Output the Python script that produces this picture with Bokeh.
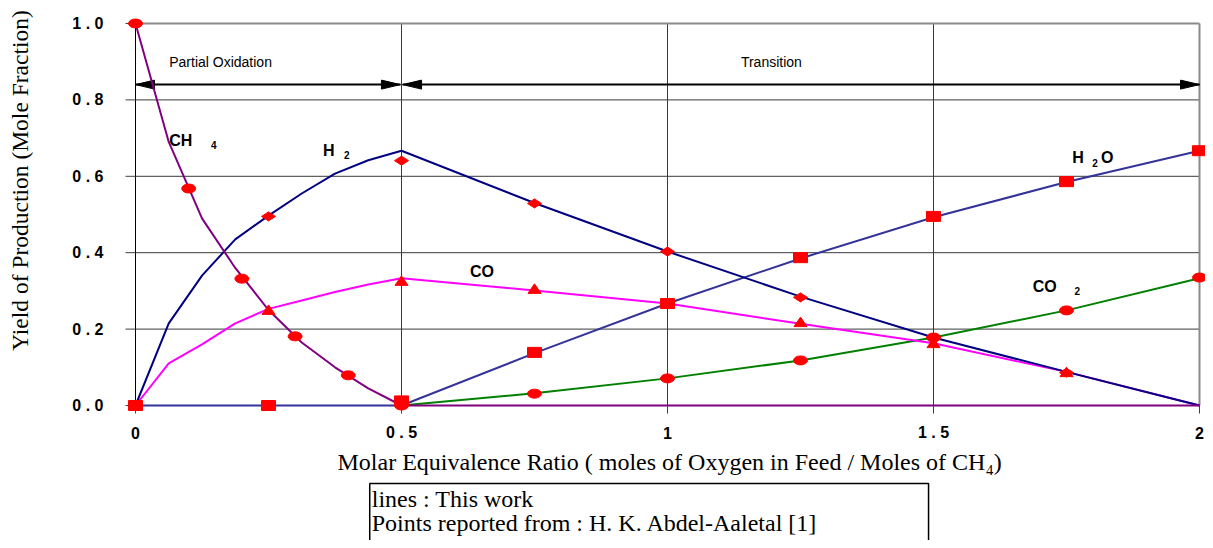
import numpy as np
from bokeh.plotting import figure
from bokeh.models import Range1d
from bokeh.embed import file_html
from bokeh.resources import INLINE
from bokeh.core.properties import value

# ---------------- data ----------------
# model lines ("This work")
LX_PO = [0, 0.0625, 0.125, 0.1875, 0.25, 0.3125, 0.375, 0.4375, 0.5]
LX_TR = [0.75, 1.0, 1.25, 1.5, 1.75, 2.0]

CH4_LINE_X = LX_PO + [2.0]
CH4_LINE_Y = [1.0, 0.69, 0.49, 0.36, 0.25, 0.165, 0.10, 0.045, 0.0, 0.0]

H2_LINE_X = LX_PO + LX_TR
H2_LINE_Y = [0.0, 0.215, 0.34, 0.435, 0.497, 0.555, 0.607, 0.642, 0.667,
             0.53, 0.403, 0.285, 0.178, 0.088, 0.0]

CO_LINE_X = LX_PO + LX_TR
CO_LINE_Y = [0.0, 0.11, 0.16, 0.215, 0.253, 0.275, 0.297, 0.317, 0.333,
             0.301, 0.267, 0.214, 0.163, 0.088, 0.0]

H2O_LINE_X = [0.0, 0.5] + LX_TR
H2O_LINE_Y = [0.0, 0.0, 0.137, 0.267, 0.385, 0.493, 0.585, 0.667]

CO2_LINE_X = [0.5] + LX_TR
CO2_LINE_Y = [0.0, 0.032, 0.071, 0.118, 0.178, 0.249, 0.333]

# reported points (Abdel-Aal et al.)
CH4_PT_X = [0.0, 0.1, 0.2, 0.3, 0.4, 0.5]
CH4_PT_Y = [1.0, 0.568, 0.332, 0.181, 0.079, 0.0]

H2_PT_X = [0.25, 0.5, 0.75, 1.0, 1.25, 1.5, 1.75]
H2_PT_Y = [0.495, 0.641, 0.529, 0.403, 0.283, 0.178, 0.086]

CO_PT_X = [0.25, 0.5, 0.75, 1.25, 1.5, 1.75]
CO_PT_Y = [0.249, 0.325, 0.304, 0.217, 0.162, 0.086]

H2O_PT_X = [0.0, 0.25, 0.5, 0.75, 1.0, 1.25, 1.5, 1.75, 2.0]
H2O_PT_Y = [0.0, 0.0, 0.012, 0.139, 0.267, 0.387, 0.495, 0.586, 0.667]

CO2_PT_X = [0.75, 1.0, 1.25, 1.5, 1.75, 2.0]
CO2_PT_Y = [0.031, 0.071, 0.118, 0.178, 0.249, 0.335]

X_TICKS = [0, 0.5, 1, 1.5, 2]
X_TICK_LABELS = ["0", "0 . 5", "1", "1 . 5", "2"]
Y_TICKS = [0.0, 0.2, 0.4, 0.6, 0.8, 1.0]
Y_TICK_LABELS = ["0 . 0", "0 . 2", "0 . 4", "0 . 6", "0 . 8", "1 . 0"]

X_TITLE = "Molar Equivalence Ratio ( moles of Oxygen in Feed / Moles of CH\u2084)"
Y_TITLE = "Yield of Production (Mole Fraction)"
NOTE_LINES = ["lines : This work", "Points reported from : H. K. Abdel-Aaletal [1]"]

# ---------------- layout ----------------
W, H = 1205, 540
PX, PY = 532.0, 382.0          # pixels per data unit
LEFT, TOP = 135.0, 23.0        # pixel position of x=0 and of y=1
X0, X1 = -LEFT / PX, (W - LEFT) / PX
Y1 = 1 + TOP / PY
Y0 = 1 - (H - TOP) / PY

p = figure(width=W, height=H, x_range=Range1d(X0, X1), y_range=Range1d(Y0, Y1),
           output_backend="svg", toolbar_location=None,
           x_axis_location=None, y_axis_location=None, min_border=0)
p.outline_line_color = None
p.grid.visible = False
p.background_fill_color = "white"
p.border_fill_color = "white"

GRID = "#3a3a3a"
gy = Y_TICKS[1:-1]
p.segment(x0=[0] * len(gy), y0=gy, x1=[2] * len(gy), y1=gy, line_color=GRID, line_width=1)
gx = X_TICKS[1:-1]
p.segment(x0=gx, y0=[0] * len(gx), x1=gx, y1=[1] * len(gx), line_color=GRID, line_width=1)
# frame
p.segment(x0=[0], y0=[1], x1=[2], y1=[1], line_color="#8a8a8a", line_width=2)
p.segment(x0=[2], y0=[0], x1=[2], y1=[1], line_color="#8a8a8a", line_width=2)
p.segment(x0=[0, 0], y0=[0, 0], x1=[0, 2], y1=[1, 0], line_color="black", line_width=1)
# tick marks
tl = 10 / PX
p.segment(x0=[-tl] * len(Y_TICKS), y0=Y_TICKS, x1=[0] * len(Y_TICKS), y1=Y_TICKS,
          line_color="#404040", line_width=1)
tb = 8 / PY
p.segment(x0=X_TICKS, y0=[-tb] * len(X_TICKS), x1=X_TICKS, y1=[0] * len(X_TICKS),
          line_color="#404040", line_width=1)

# tick labels
TICKF = dict(text_font=value("Liberation Sans"), text_font_style="bold",
             text_font_size="16px", text_color="black", text_baseline="middle")
p.text(x=[-32 / PX] * len(Y_TICKS), y=Y_TICKS, text=Y_TICK_LABELS, text_align="right", **TICKF)
p.text(x=X_TICKS, y=[-27 / PY] * len(X_TICKS), text=X_TICK_LABELS, text_align="center", **TICKF)

# axis titles
TITLEF = dict(text_font=value("Liberation Serif"), text_color="black",
              text_align="center", text_baseline="middle")
p.text(x=[1.004], y=[-56 / PY], text=[X_TITLE], text_font_size="24px", **TITLEF)
p.text(x=[-116 / PX], y=[225 / PY], text=[Y_TITLE], angle=np.pi / 2,
       text_font_size="23.5px", **TITLEF)

# arrows (regions)
AY = 0.84
hl, hh = 19 / PX, 4.5 / PY
p.line([0, 0.498], [AY, AY], line_color="black", line_width=2)
p.line([0.502, 2.0], [AY, AY], line_color="black", line_width=2)
heads_x = [[0, hl, hl], [0.498, 0.498 - hl, 0.498 - hl],
           [0.502, 0.502 + hl, 0.502 + hl], [2.0, 2.0 - hl, 2.0 - hl]]
heads_y = [[AY, AY + hh, AY - hh]] * 4
p.patches(heads_x, heads_y, fill_color="black", line_color="black")

# model lines
p.line(CO2_LINE_X, CO2_LINE_Y, line_color="#008000", line_width=2)
p.line(H2O_LINE_X, H2O_LINE_Y, line_color="#333399", line_width=2)
p.line(CO_LINE_X, CO_LINE_Y, line_color="#ff00ff", line_width=2)
p.line(H2_LINE_X, H2_LINE_Y, line_color="#000080", line_width=2)
p.line(CH4_LINE_X, CH4_LINE_Y, line_color="#800080", line_width=2)

RED = "#ff0000"
dx, dy = 7 / PX, 4.5 / PY
p.patches([[x - dx, x, x + dx, x] for x in H2_PT_X],
          [[y, y + dy, y, y - dy] for y in H2_PT_Y], fill_color=RED, line_color=RED)
tx, tu, td = 6.5 / PX, 5.5 / PY, 4 / PY
p.patches([[x - tx, x, x + tx] for x in CO_PT_X],
          [[y - td, y + tu, y - td] for y in CO_PT_Y], fill_color=RED, line_color=RED)
p.ellipse(CO2_PT_X, CO2_PT_Y, width=14, height=9, width_units="screen",
          height_units="screen", fill_color=RED, line_color=RED)
p.ellipse(CH4_PT_X, CH4_PT_Y, width=14, height=9, width_units="screen",
          height_units="screen", fill_color=RED, line_color=RED)
p.rect(H2O_PT_X, H2O_PT_Y, width=14, height=10, width_units="screen",
       height_units="screen", fill_color=RED, line_color=RED)

# species labels
BIG = dict(text_font=value("Liberation Sans"), text_font_style="bold",
           text_font_size="16px", text_align="left", text_baseline="middle", text_color="black")
SMALL = dict(BIG, text_font_size="10px")
p.text(x=[0.0634, 0.3526, 0.6287, 1.761, 1.815, 1.6866],
       y=[0.695, 0.6675, 0.3508, 0.648, 0.648, 0.3115],
       text=["CH", "H", "CO", "H", "O", "CO"], **BIG)
p.text(x=[0.1418, 0.392, 1.7985, 1.765], y=[0.681, 0.657, 0.636, 0.301],
       text=["4", "2", "2", "2"], **SMALL)

REG = dict(text_font=value("Liberation Sans"), text_font_size="14px",
           text_align="left", text_baseline="middle", text_color="black")
p.text(x=[0.0634, 1.138], y=[0.898, 0.898], text=["Partial Oxidation", "Transition"], **REG)

# note box
p.quad(left=[0.4403], right=[1.4907], top=[-78 / PY], bottom=[-160 / PY],
       fill_color=None, line_color="black", line_width=1.5)
p.text(x=[0.4403 + 2 / PX] * 2, y=[-93 / PY, -117 / PY], text=NOTE_LINES,
       text_font=value("Liberation Serif"), text_font_size="24px", text_color="black",
       text_align="left", text_baseline="middle")

open("out.html", "w").write(file_html(p, INLINE))
